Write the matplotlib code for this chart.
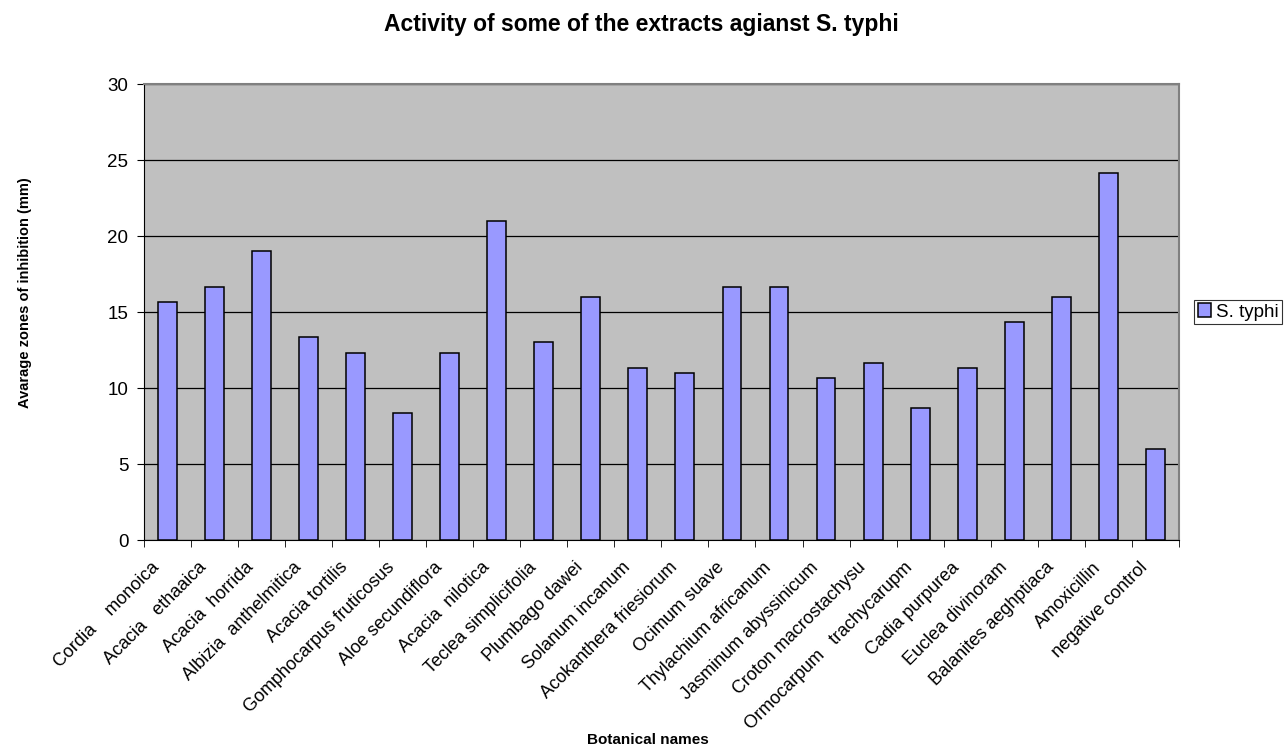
import matplotlib
matplotlib.use("Agg")
import matplotlib.pyplot as plt
import matplotlib.transforms as mtransforms
import numpy as np

plt.rcParams['font.family'] = ['Liberation Sans', 'DejaVu Sans']

# nomes das plantas e zonas de inibicao (mm)
nomes = ["Cordia    monoica", "Acacia   ethaaica", "Acacia  horrida",
         "Albizia  anthelmitica", "Acacia tortilis", "Gomphocarpus fruticosus",
         "Aloe secundiflora", "Acacia  nilotica", "Teclea simplicifolia",
         "Plumbago dawei", "Solanum incanum", "Acokanthera friesiorum",
         "Ocimum suave", "Thylachium africanum", "Jasminum abyssinicum",
         "Croton macrostachysu", "Ormocarpum   trachycarupm", "Cadia purpurea",
         "Euclea divinoram", "Balanites aeghptiaca", "Amoxicillin",
         "negative control"]
s_typhi = [15.67, 16.67, 19.0, 13.33, 12.33, 8.33, 12.33, 21.0, 13.0, 16.0,
           11.33, 11.0, 16.67, 16.67, 10.67, 11.67, 8.67, 11.33, 14.33, 16.0,
           24.17, 6.0]

fig = plt.figure(figsize=(12.86, 7.47), dpi=100)
ax = fig.add_axes([0.1117, 0.2771, 0.8051, 0.6104])
ax.set_facecolor("#C0C0C0")

x = np.arange(len(nomes))
ax.set_axisbelow(True)
ax.yaxis.grid(True, color="black", linewidth=0.9)
ax.bar(x, s_typhi, width=0.4, color="#9999FF", edgecolor="black",
       linewidth=1.1, label="S. typhi", zorder=3)

ax.set_xlim(-0.5, len(nomes) - 0.5)
ax.set_ylim(0, 30)
ax.set_yticks(range(0, 31, 5))
ax.tick_params(axis="y", labelsize=13.5, length=5, direction="out", pad=6)

ax.set_xticks(x)
ax.set_xticklabels(nomes, rotation=45, ha="right", va="center",
                   rotation_mode="anchor", fontsize=13)
ax.tick_params(axis="x", which="major", length=0, pad=18)
desloc = mtransforms.ScaledTranslation(-10 / 100, 0, fig.dpi_scale_trans)
for rotulo in ax.get_xticklabels():
    rotulo.set_transform(rotulo.get_transform() + desloc)
ax.set_xticks(np.arange(-0.5, len(nomes), 1), minor=True)
ax.tick_params(axis="x", which="minor", length=5, direction="out")

for lado in ["top", "right"]:
    ax.spines[lado].set_color("#808080")
    ax.spines[lado].set_linewidth(1.5)
for lado in ["left", "bottom"]:
    ax.spines[lado].set_color("black")

fig.text(648 / 1286, 1 - 740 / 747, "Botanical names", fontweight="bold",
         fontsize=11, ha="center", va="center")
fig.text(25 / 1286, 1 - 293 / 747, "Avarage zones of inhibition (mm)",
         fontweight="bold", fontsize=10.5, rotation=90,
         ha="center", va="center")
fig.text(641 / 1286, 1 - 25 / 747,
         "Activity of some of the extracts agianst S. typhi",
         fontweight="bold", fontsize=16.5, ha="center", va="center")

leg = fig.legend(loc="center left", bbox_to_anchor=(1194 / 1286, 1 - 312 / 747),
                 fontsize=13.5, frameon=True, fancybox=False,
                 handlelength=0.7, handleheight=0.7, handletextpad=0.25,
                 borderpad=0.2, borderaxespad=0)
leg.get_frame().set_edgecolor("black")
leg.get_frame().set_linewidth(0.8)

fig.savefig("out.png", dpi=100, facecolor="white")
